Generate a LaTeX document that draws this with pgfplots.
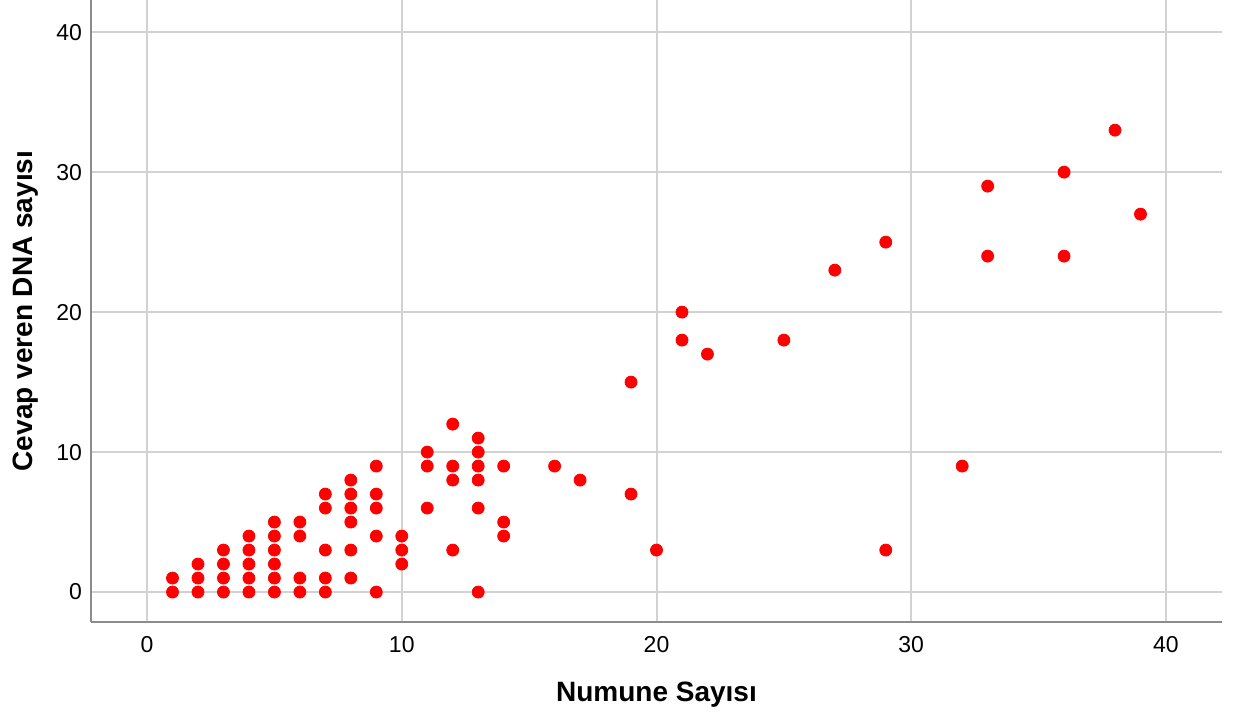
\documentclass[border=0pt]{standalone}
\usepackage{fontspec}
\setmainfont{Liberation Sans}
\usepackage{pgfplots}
\pgfplotsset{compat=1.18}
\usetikzlibrary{calc}
\definecolor{gridgray}{HTML}{D2D2D2}
\definecolor{axisgray}{HTML}{8C8C8C}
\begin{document}
\begin{tikzpicture}
\begin{axis}[
  scale only axis,
  width=565.5pt, height=311pt,
  xmin=-2.2, xmax=42.2,
  ymin=-2.14, ymax=42.3,
  xtick={0,10,...,40}, ytick={0,10,...,40},
  axis lines*=left,
  axis line style={axisgray, line width=0.9pt},
  major tick length=0pt,
  grid=major,
  major grid style={gridgray, line width=1pt},
  tick label style={font=\fontsize{11.5}{13}\selectfont},
  /pgf/number format/assume math mode=true,
  xticklabel style={yshift=-3.5pt},
  yticklabel style={xshift=-1pt},
  xlabel={\textbf{Numune Sayısı}},
  ylabel={\textbf{Cevap veren DNA sayısı}},
  label style={font=\fontsize{14}{16}\selectfont},
  xlabel style={yshift=-8pt},
  ylabel style={yshift=2pt},
  clip=false,
]
\addplot[only marks, mark=*, mark size=3pt, color=red, mark options={draw=red, fill=red}]
  table[row sep=\\] {
x y \\
1 0 \\ 1 1 \\
2 0 \\ 2 1 \\ 2 2 \\
3 0 \\ 3 1 \\ 3 2 \\ 3 3 \\
4 0 \\ 4 1 \\ 4 2 \\ 4 3 \\ 4 4 \\
5 0 \\ 5 1 \\ 5 2 \\ 5 3 \\ 5 4 \\ 5 5 \\
6 0 \\ 6 1 \\ 6 4 \\ 6 5 \\
7 0 \\ 7 1 \\ 7 3 \\ 7 6 \\ 7 7 \\
8 1 \\ 8 3 \\ 8 5 \\ 8 6 \\ 8 7 \\ 8 8 \\
9 0 \\ 9 4 \\ 9 6 \\ 9 7 \\ 9 9 \\
10 2 \\ 10 3 \\ 10 4 \\
11 6 \\ 11 9 \\ 11 10 \\
12 3 \\ 12 8 \\ 12 9 \\ 12 12 \\
13 0 \\ 13 6 \\ 13 8 \\ 13 9 \\ 13 10 \\ 13 11 \\
14 4 \\ 14 5 \\ 14 9 \\
16 9 \\
17 8 \\
19 7 \\ 19 15 \\
20 3 \\
21 18 \\ 21 20 \\
22 17 \\
25 18 \\
27 23 \\
29 3 \\ 29 25 \\
32 9 \\
33 24 \\ 33 29 \\
36 24 \\ 36 30 \\
38 33 \\
39 27 \\
};
\end{axis}
\pgfresetboundingbox
\path ($(current axis.south west)+(-45.5pt,-49pt)$) rectangle ($(current axis.north east)+(6.5pt,0pt)$);
\end{tikzpicture}
\end{document}
